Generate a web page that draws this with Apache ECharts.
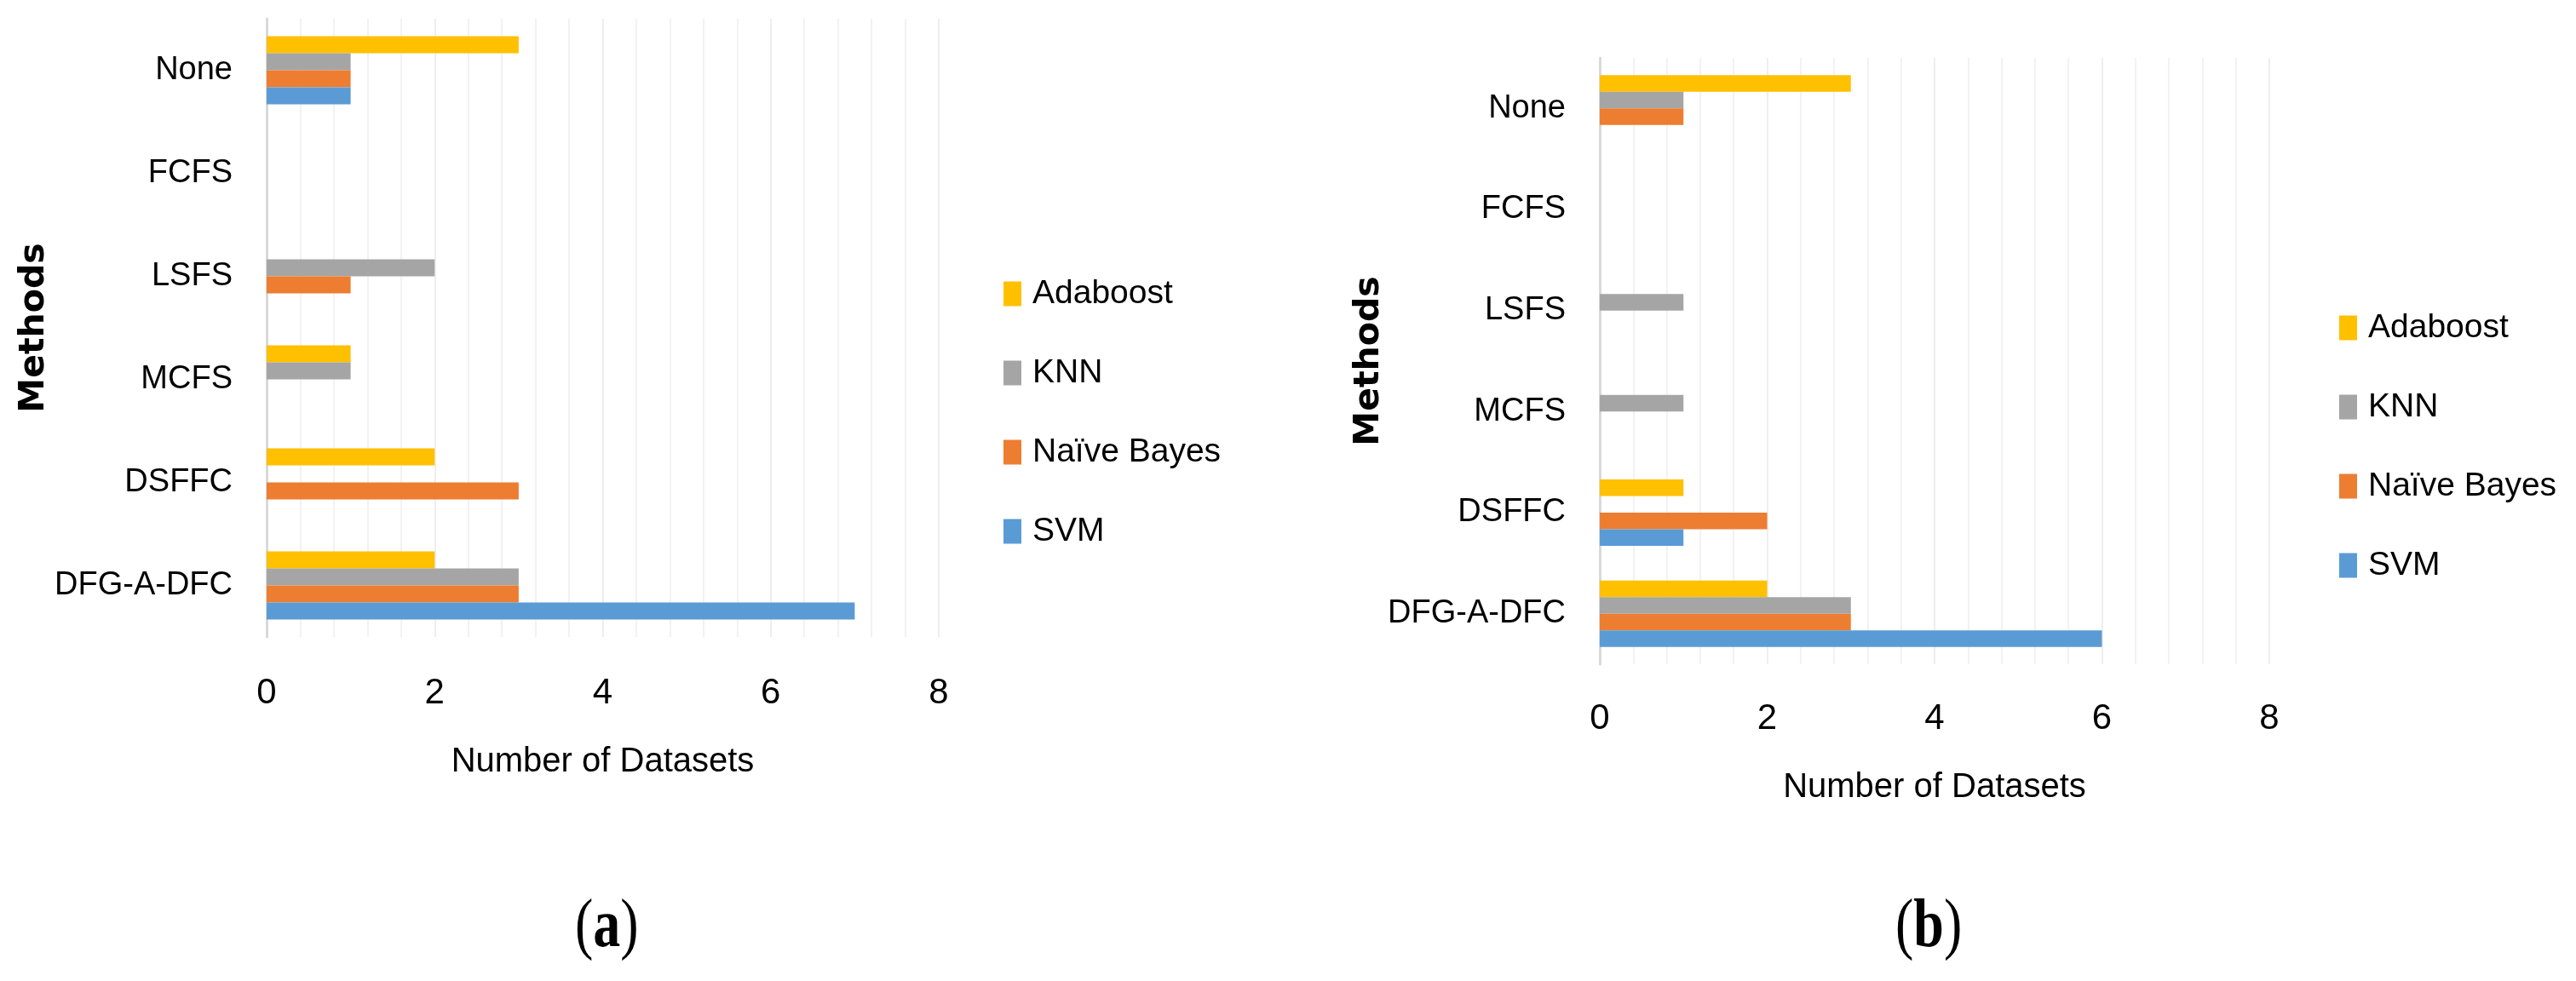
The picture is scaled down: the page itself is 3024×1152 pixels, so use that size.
<!DOCTYPE html>
<html>
<head>
<meta charset="utf-8">
<script src="https://cdn.jsdelivr.net/npm/echarts@6/dist/echarts.min.js"></script>
<style>html,body{margin:0;padding:0;background:#fff;}#c{width:3024px;height:1152px;}</style>
</head>
<body>
<div id="c"></div>
<script>
// Categories listed bottom-to-top as drawn on the vertical axis
const categories = ['DFG-A-DFC', 'DSFFC', 'MCFS', 'LSFS', 'FCFS', 'None'];
const seriesNames = ['Adaboost', 'KNN', 'Naïve Bayes', 'SVM'];
const xTicks = [0, 2, 4, 6, 8];

// Panel (a)
const a_adaboost = [2, 2, 1, 0, 0, 3];
const a_knn      = [3, 0, 1, 2, 0, 1];
const a_nb       = [3, 3, 0, 1, 0, 1];
const a_svm      = [7, 0, 0, 0, 0, 1];
// Panel (b)
const b_adaboost = [2, 1, 0, 0, 0, 3];
const b_knn      = [3, 0, 1, 1, 0, 1];
const b_nb       = [3, 2, 0, 0, 0, 1];
const b_svm      = [6, 1, 0, 0, 0, 0];

const colors = {'Adaboost': '#FFC000', 'KNN': '#A5A5A5', 'Naïve Bayes': '#ED7D31', 'SVM': '#5B9BD5'};
const SANS = '"Liberation Sans Narrow","Liberation Sans",Arial,sans-serif';

function xAxisCfg(gridIndex, labelMargin, nameGap) {
  return {
    type: 'value', gridIndex: gridIndex, min: xTicks[0], max: xTicks[xTicks.length - 1], interval: 2,
    axisLine: {show: false}, axisTick: {show: false},
    axisLabel: {margin: labelMargin, fontSize: 42, color: '#000', fontFamily: SANS},
    splitLine: {show: true, lineStyle: {color: '#eeeeee', width: 2}},
    minorTick: {show: false, splitNumber: 5},
    minorSplitLine: {show: true, lineStyle: {color: '#f2f2f2', width: 2}},
    name: 'Number of Datasets', nameLocation: 'middle', nameGap: nameGap, nameMoveOverlap: false,
    nameTextStyle: {fontSize: 40, color: '#000', fontFamily: SANS}
  };
}
function yAxisCfg(gridIndex, nameGap) {
  return {
    type: 'category', gridIndex: gridIndex, data: categories,
    axisLine: {show: true, lineStyle: {color: '#d9d9d9', width: 3}},
    axisTick: {show: false},
    axisLabel: {margin: 40, fontSize: 38, color: '#000', fontFamily: SANS},
    name: 'Methods', nameLocation: 'middle', nameGap: nameGap, nameRotate: 90, nameMoveOverlap: false,
    nameTextStyle: {fontSize: 41, fontWeight: 'bold', color: '#000', fontFamily: '"DejaVu Sans",sans-serif'}
  };
}
function barSeries(name, data, idx, bw) {
  return {
    name: name, type: 'bar', xAxisIndex: idx, yAxisIndex: idx, data: data,
    barWidth: bw, barGap: '0%', itemStyle: {color: colors[name]}, silent: true
  };
}
function legendCfg(left, top) {
  return {
    data: seriesNames, orient: 'vertical', left: left, top: top,
    icon: 'rect', itemWidth: 21, itemHeight: 29, itemGap: 47,
    selectedMode: false,
    textStyle: {fontSize: 39, lineHeight: 46, color: '#000', fontFamily: SANS, padding: [0, 0, 0, 8]}
  };
}

const chart = echarts.init(document.getElementById('c'), null, {renderer: 'canvas'});
chart.setOption({
  animation: false,
  backgroundColor: '#fff',
  grid: [
    {left: 313, top: 22, width: 789, height: 726},
    {left: 1878, top: 68, width: 786, height: 712}
  ],
  xAxis: [xAxisCfg(0, 45, 127), xAxisCfg(1, 43, 125)],
  yAxis: [yAxisCfg(0, 252), yAxisCfg(1, 250)],
  legend: [legendCfg(1173, 317), legendCfg(2741, 357)],
  series: [
    barSeries('Adaboost', a_adaboost, 0, 20),
    barSeries('KNN', a_knn, 0, 20),
    barSeries('Naïve Bayes', a_nb, 0, 20),
    barSeries('SVM', a_svm, 0, 20),
    barSeries('Adaboost', b_adaboost, 1, 19.5),
    barSeries('KNN', b_knn, 1, 19.5),
    barSeries('Naïve Bayes', b_nb, 1, 19.5),
    barSeries('SVM', b_svm, 1, 19.5)
  ],
  graphic: [
    {type: 'text', left: 713 - 38, top: 1050, scaleY: 1.25,
     style: {text: '({b|a})', fontSize: 64, fontFamily: '"Liberation Serif","DejaVu Serif",serif', fill: '#000',
             rich: {b: {fontSize: 64, fontWeight: 'bold', fontFamily: '"Liberation Serif","DejaVu Serif",serif'}}}},
    {type: 'text', left: 2263 - 38, top: 1050, scaleY: 1.25,
     style: {text: '({b|b})', fontSize: 64, fontFamily: '"Liberation Serif","DejaVu Serif",serif', fill: '#000',
             rich: {b: {fontSize: 64, fontWeight: 'bold', fontFamily: '"Liberation Serif","DejaVu Serif",serif'}}}}
  ]
});
</script>
</body>
</html>
